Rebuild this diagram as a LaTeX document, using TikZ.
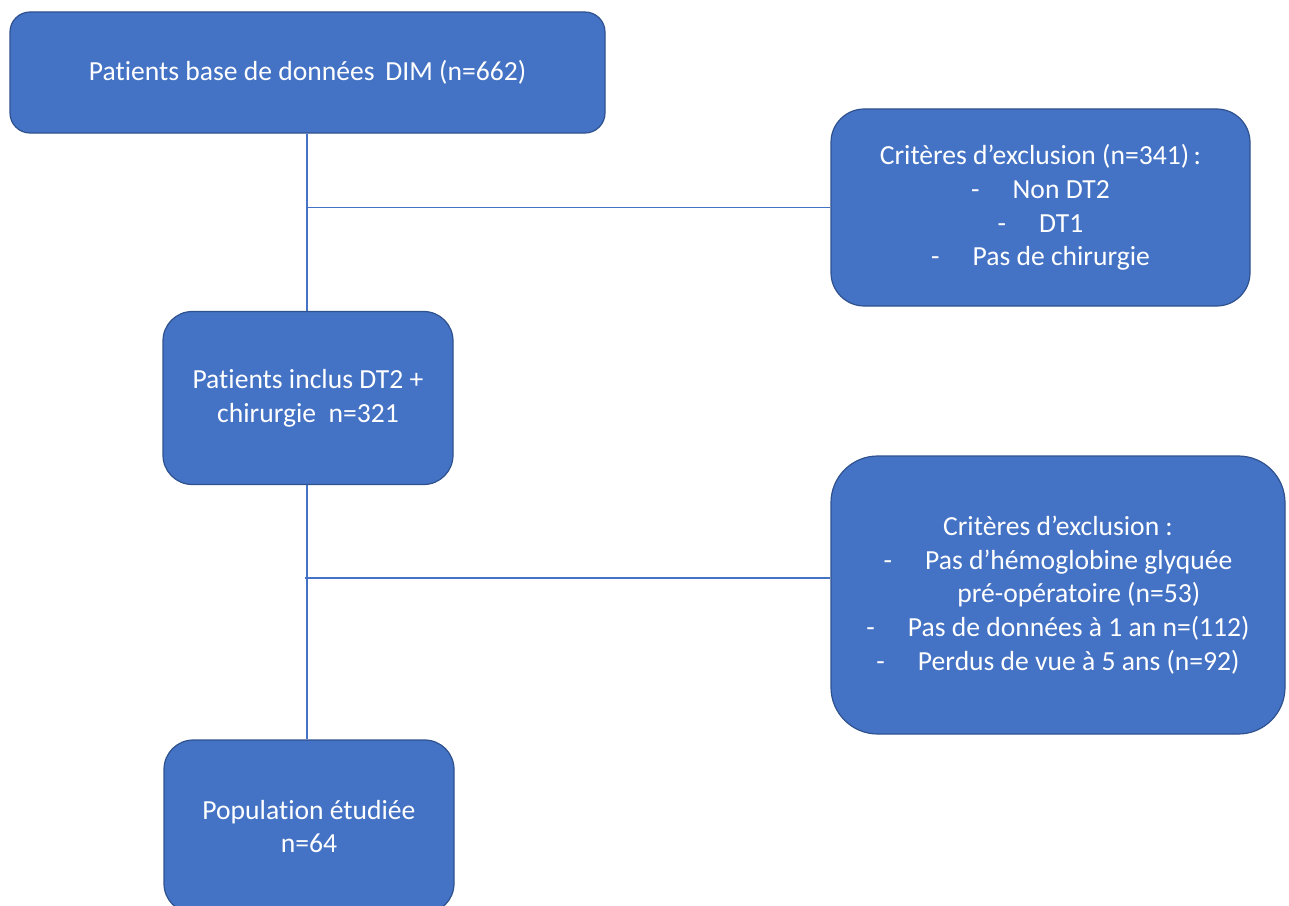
\documentclass[tikz,border=0pt]{standalone}
\usepackage{fontspec}
\setmainfont{Carlito}[Ligatures=NoCommon]
\usepackage{tikz}
\usetikzlibrary{positioning}
\definecolor{boxblue}{HTML}{4472C4}
\definecolor{edgeblue}{HTML}{2F528F}
\newcommand{\tiret}{-\hspace{1.2em}}

\begin{document}
\begin{tikzpicture}[x=0.75pt,y=-0.75pt,
  etape/.style={draw=edgeblue,line width=0.9pt,fill=boxblue,text=white,
    align=center,inner sep=0pt,font=\fontsize{20.7}{25.3}\selectfont},
  lien/.style={draw=boxblue,line width=0.8pt}]
\useasboundingbox (0,0) rectangle (1289,906);
\node[etape,minimum width=446.25pt,minimum height=90.75pt,rounded corners=15pt] (base) at (307.5,72.5)
  {Patients base de donn\'ees\, DIM (n=662)};
\node[etape,minimum width=314.25pt,minimum height=147.75pt,rounded corners=25pt] (excl1) at (1040.5,207.5)
  {Crit\`eres d'exclusion (n=341)\,:\\ \tiret Non DT2\\ \tiret DT1\\ \tiret Pas de chirurgie};
\node[etape,minimum width=217.5pt,minimum height=129.75pt,rounded corners=22pt] (inclus) at (308,398)
  {Patients inclus DT2 +\\ chirurgie\ \ n=321};
\node[etape,minimum width=340.5pt,minimum height=208.5pt,rounded corners=35pt] (excl2) at (1058,595)
  {Crit\`eres d'exclusion\ :\\ \tiret Pas d'h\'emoglobine glyqu\'ee\\
   \phantom{-}\hspace{1.2em}pr\'e-op\'eratoire (n=53)\\
   \tiret Pas de donn\'ees \`a 1 an n=(112)\\ \tiret Perdus de vue \`a 5 ans (n=92)};
\node[etape,minimum width=217.5pt,minimum height=129.75pt,rounded corners=22pt] (etudiee) at (309,826.5)
  {Population \'etudi\'ee\\ n=64};
% connecteurs
\draw[lien] (base.south -| 307,0) -- (inclus.north -| 307,0);
\draw[lien] (307,0 |- excl1.west) -- (excl1.west);
\draw[lien] (inclus.south -| 307,0) -- (etudiee.north -| 307,0);
\coordinate (branche) at (305,578);
\draw[lien] (branche) -- (branche -| excl2.west);
\end{tikzpicture}
\end{document}
